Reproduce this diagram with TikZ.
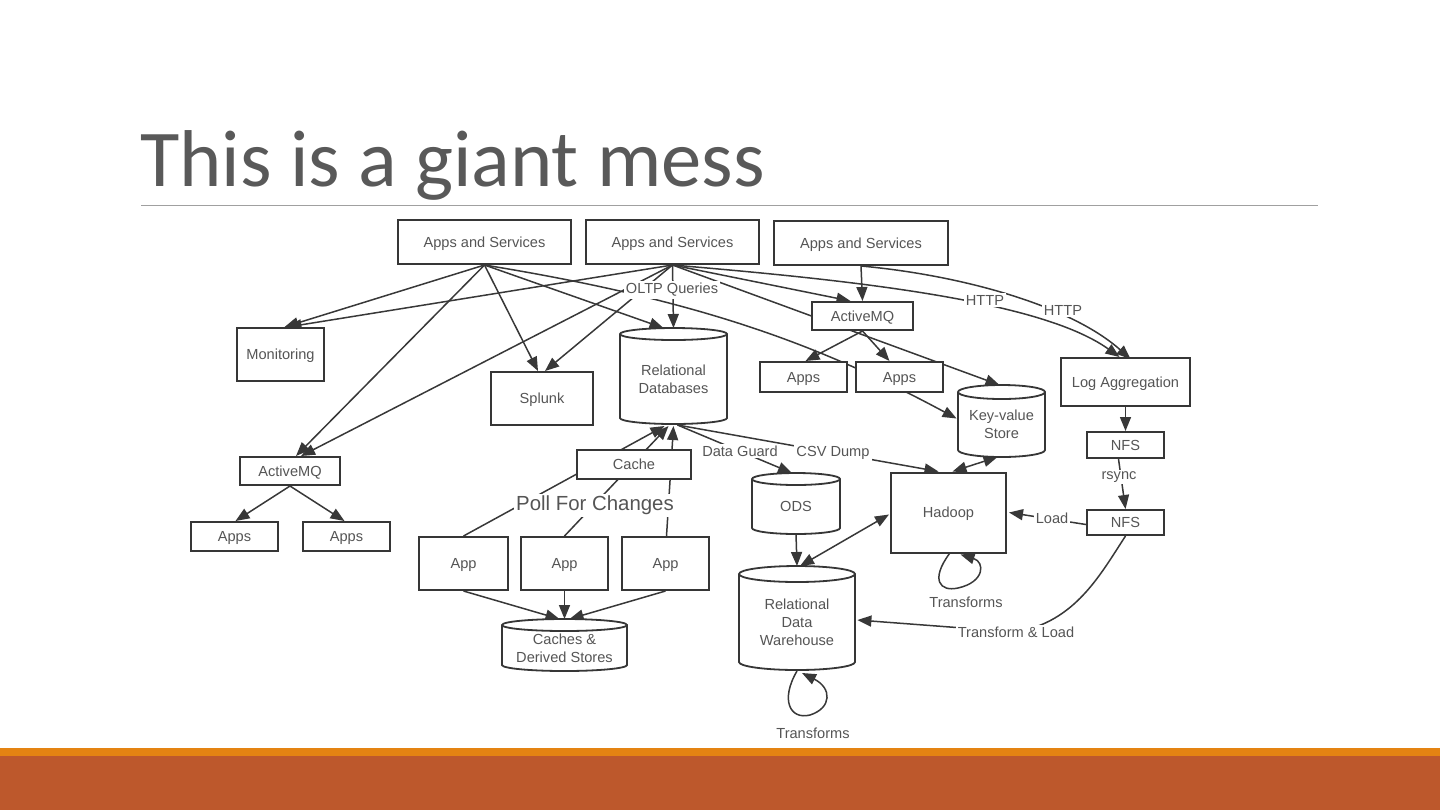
\documentclass[tikz,border=0pt]{standalone}
\usepackage{fontspec}
\setmainfont{Liberation Sans}
\newfontfamily\titlefont{Carlito}
\usetikzlibrary{arrows.meta,calc}
\definecolor{txt}{HTML}{555555}
\definecolor{boxc}{HTML}{363636}
\definecolor{linec}{HTML}{383838}
\definecolor{titlec}{HTML}{595959}
\definecolor{rulec}{HTML}{A0A0A0}
\definecolor{orangeband}{HTML}{E48312}
\definecolor{rustband}{HTML}{BD582C}
\pgfdeclarelayer{bg}
\pgfsetlayers{bg,main}
\newcommand\dfont{\fontsize{7.3}{9}\selectfont}
\newcommand\cylnode[7]{%
  \path[draw=boxc, line width=0.9pt, fill=white]
    (#2-#4/2, #3-#5/2+#6) -- (#2-#4/2, #3+#5/2-#6)
    arc[start angle=180, end angle=360, x radius=#4*0.25pt, y radius=#6*0.5pt]
    -- (#2+#4/2, #3-#5/2+#6)
    arc[start angle=0, end angle=180, x radius=#4*0.25pt, y radius=#6*0.5pt] -- cycle;
  \draw[boxc, line width=0.9pt] (#2-#4/2, #3-#5/2+#6)
    arc[start angle=180, end angle=360, x radius=#4*0.25pt, y radius=#6*0.5pt];
  \node[cyltext, minimum width=#4*0.5pt, minimum height=#5*0.5pt-#6*0.5pt] (#1) at (#2,#3+#6/2) {#7};
  \coordinate (#1-top) at (#2,#3-#5/2);
  \coordinate (#1-bot) at (#2,#3+#5/2);
}
\tikzset{
  box/.style={draw=boxc, line width=1pt, fill=white, text=txt, font=\dfont, inner sep=0pt, align=center, text depth=0pt},
  cyltext/.style={text=txt, font=\dfont, inner sep=0pt, align=center},
  lbl/.style={fill=white, text=txt, font=\dfont, inner sep=1pt},
  edge/.style={draw=linec, line width=0.75pt, -{Triangle[length=7pt,width=5.5pt]}},
  dedge/.style={draw=linec, line width=0.75pt, {Triangle[length=7pt,width=5.5pt]}-{Triangle[length=7pt,width=5.5pt]}},
}
\begin{document}
\begin{tikzpicture}[x=0.5pt,y=-0.5pt]
\useasboundingbox (0,0) rectangle (1440,810);
% bands
\fill[orangeband] (0,748) rectangle (1440,757);
\fill[rustband] (0,756) rectangle (1440,810);
% title
\node[anchor=base west, inner sep=0pt, font=\titlefont\fontsize{40.3}{44}\selectfont, text=titlec] (title) at (140,186) {This is a giant mess};
\draw[rulec, line width=0.5pt] (141,205) -- (1318,205);

% boxes
\node[box, minimum width=86.5pt, minimum height=22pt] (a1) at (484.5,242) {Apps and Services};
\node[box, minimum width=86.5pt, minimum height=22pt] (a2) at (672.5,242) {Apps and Services};
\node[box, minimum width=87pt, minimum height=22pt] (a3) at (861,243) {Apps and Services};
\node[box, minimum width=43.5pt, minimum height=26.5pt] (mon) at (280.5,354.5) {Monitoring};
\node[box, minimum width=50pt, minimum height=14pt] (amql) at (290,471) {ActiveMQ};
\node[box, minimum width=43.5pt, minimum height=14.5pt] (appsl1) at (234.5,536.5) {Apps};
\node[box, minimum width=43.5pt, minimum height=14.5pt] (appsl2) at (346.5,536.5) {Apps};
\node[box, minimum width=51pt, minimum height=26.5pt] (splunk) at (542,398.5) {Splunk};
\node[box, minimum width=57pt, minimum height=14.5pt] (cache) at (634,464.5) {Cache};
\node[box, minimum width=44.5pt, minimum height=26.5pt] (app1) at (463.5,563.5) {App};
\node[box, minimum width=43.5pt, minimum height=26.5pt] (app2) at (564.5,563.5) {App};
\node[box, minimum width=43.5pt, minimum height=26.5pt] (app3) at (665.5,563.5) {App};
\node[box, minimum width=50.5pt, minimum height=14pt] (amqr) at (862.5,316) {ActiveMQ};
\node[box, minimum width=43.5pt, minimum height=15pt] (appsr1) at (803.5,377) {Apps};
\node[box, minimum width=43.5pt, minimum height=15pt] (appsr2) at (899.5,377) {Apps};
\node[box, minimum width=64.5pt, minimum height=24pt] (logagg) at (1125.5,382) {Log Aggregation};
\node[box, minimum width=38.5pt, minimum height=13pt] (nfs1) at (1125.5,445) {NFS};
\node[box, minimum width=38.5pt, minimum height=12.5pt] (nfs2) at (1125.5,522.5) {NFS};
\node[box, minimum width=57.5pt, minimum height=40pt] (hadoop) at (948.5,512.5) {Hadoop};

% cylinders
\cylnode{db}{673.5}{376}{107}{96}{6}{Relational\\Databases}
\cylnode{cds}{564.5}{645}{125}{52}{6}{Caches \&\\Derived Stores}
\cylnode{kv}{1001.5}{421}{87}{72}{7}{Key-value\\Store}
\cylnode{ods}{796}{503.5}{88}{61}{6}{ODS}
\cylnode{rdw}{797}{618}{116}{104}{8}{Relational\\Data\\Warehouse}

% labels
\node[lbl] (oltp) at (672,290) {OLTP Queries};
\node[lbl, font=\fontsize{10.2}{12}\selectfont] (poll) at (595,505) {Poll For Changes};
\node[lbl] (dguard) at (740,451) {Data Guard};
\node[lbl] (csv) at (833,453) {CSV Dump};
\node[lbl] (http1) at (985,300) {HTTP};
\node[lbl] (http2) at (1063,310) {HTTP};
\node[lbl] (rsync) at (1119,477) {rsync};
\node[lbl] (load) at (1052,518) {Load};
\node[lbl] (tl) at (1016,632) {Transform \& Load};
\node[lbl] (tr1) at (966,602) {Transforms};
\node[lbl] (tr2) at (813,733) {Transforms};

\begin{pgfonlayer}{bg}
% from first Apps and Services
\draw[edge] (a1.south) -- ($(mon.north)+(4,0)$);
\draw[edge] (a1.south) -- ($(amql.north)+(6,0)$);
\draw[edge] (a1.south) -- ($(splunk.north)+(-4,0)$);
\draw[edge] (a1.south) -- ($(db-top)+(-10,0)$);
\draw[edge] (a1.south) .. controls (700,300) and (820,345) .. ($(kv.west)+(-1,-6)$);
% from second Apps and Services
\draw[edge] (a2.south) -- ($(mon.north)+(7,0)$);
\draw[edge] (a2.south) -- ($(amql.north)+(11,0)$);
\draw[edge] (a2.south) -- ($(splunk.north)+(3,0)$);
\draw[edge] (a2.south) -- (db-top);
\draw[edge] (a2.south) -- ($(amqr.north)+(-12,0)$);
\draw[edge] (a2.south) -- ($(kv-top)+(-2,0)$);
\draw[edge] (a2.south) .. controls (850,280) and (1040,300) .. ($(logagg.north)+(-6,0)$);
% from third Apps and Services
\draw[edge] (a3.south) -- (amqr.north);
\draw[edge] (a3.south) .. controls (960,275) and (1070,305) .. ($(logagg.north)+(5,2)$);
% ActiveMQ right
\draw[edge] (amqr.south) -- ($(appsr1.north)+(2,0)$);
\draw[edge] (amqr.south) -- ($(appsr2.north)+(-10,0)$);
% ActiveMQ left
\draw[edge] (amql.south) -- ($(appsl1.north)+(1,0)$);
\draw[edge] (amql.south) -- ($(appsl2.north)+(-2,0)$);
% relational DB outputs
\draw[edge] ($(db-bot)+(4,1)$) -- ($(ods-top)+(-4,0)$);
\draw[edge] ($(db-bot)+(4,1)$) -- ($(hadoop.north)+(-10,0)$);
% apps poll the DB
\draw[edge] (app1.north) -- ($(db-bot)+(-9,2)$);
\draw[edge] (app2.north) -- ($(db-bot)+(-5,2)$);
\draw[edge] ($(app3.north)+(1,0)$) -- ($(db-bot)+(0,2)$);
% apps to caches
\draw[edge] (app1.south) -- ($(cds-top)+(-5,0)$);
\draw[edge] (app2.south) -- (cds-top);
\draw[edge] (app3.south) -- ($(cds-top)+(5,0)$);
% hadoop & co
\draw[dedge] ($(kv-bot)+(-4,0)$) -- ($(hadoop.north)+(4,0)$);
\draw[dedge] ($(hadoop.west)+(-1,2)$) -- ($(rdw-top)+(3,0)$);
\draw[edge] (ods-bot) -- (rdw-top);
\draw[edge] (logagg.south) -- (nfs1.north);
\draw[edge] ($(nfs1.south)+(-7,0)$) -- (nfs2.north);
\draw[edge] ($(nfs2.west)+(0,2)$) -- ($(hadoop.east)+(2,0)$);
\draw[edge] (nfs2.south) .. controls (1100,575) and (1075,622) .. (tl.center) -- ($(rdw.east)+(2,-2)$);
\draw[edge] ($(hadoop.south)+(1,0)$) .. controls (930,580) and (940,592) .. (958,588) .. controls (985,582) and (985,562) .. ($(hadoop.south)+(12,1)$);
\draw[edge] ($(rdw-bot)+(0,1)$) .. controls (780,700) and (790,720) .. (810,715) .. controls (832,708) and (832,688) .. ($(rdw-bot)+(5,3)$);
\end{pgfonlayer}
\end{tikzpicture}
\end{document}
